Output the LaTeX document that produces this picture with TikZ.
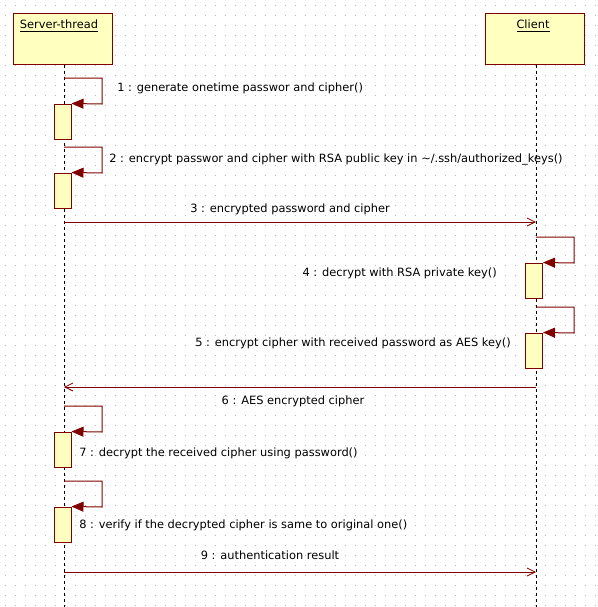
\documentclass[tikz,border=0pt]{standalone}
\usepackage{fontspec}
\setmainfont{DejaVu Sans}
\usetikzlibrary{arrows.meta}
\definecolor{umlred}{HTML}{800000}
\definecolor{umlfill}{HTML}{FFFFC0}
\definecolor{griddot}{HTML}{B8B8B8}
\begin{document}
\begin{tikzpicture}[x=0.75pt,y=-0.75pt,
  every node/.style={font=\fontsize{8.55pt}{10pt}\selectfont, inner sep=0pt},
  headbox/.style={draw=umlred, fill=umlfill, line width=0.75pt, minimum width=74.25pt, minimum height=38.25pt},
  actbox/.style={draw=umlred, fill=umlfill, line width=0.75pt, minimum width=12.75pt, minimum height=26.25pt},
  lifeline/.style={black, line width=0.75pt, dash pattern=on 2.6pt off 1.9pt},
  selfmsg/.style={umlred, line width=0.75pt, -{Triangle[length=9pt,width=7.5pt]}},
  msg/.style={umlred, line width=0.75pt, -{Straight Barb[length=6pt,width=6pt,line width=0.6pt]}},
  lbl/.style={text=black}
]
\useasboundingbox (0,0) rectangle (598,607);
% dotted grid
\foreach \yy in {5,15,...,605}
  \draw[griddot, line width=0.75pt, dash pattern=on 0.75pt off 6.75pt] (4.5,\yy) -- (598,\yy);

% heads
\node[headbox] (server) at (62.5,38.5) {};
\node[headbox] (client) at (534.5,38.5) {};
\node[lbl] (serverlbl) at (59,26) {\underline{Server-thread}};
\node[lbl] (clientlbl) at (533,26) {\underline{Client}};

% lifelines
\coordinate (sbot) at (64,607);
\coordinate (cbot) at (536,607);
\draw[lifeline] (server.south -| sbot) -- (sbot);
\draw[lifeline] (client.south -| cbot) -- (cbot);

% activation boxes
\node[actbox] (a1) at (62.5,121.5) {};
\node[actbox] (a2) at (62.5,190.5) {};
\node[actbox] (a4) at (534,280.5) {};
\node[actbox] (a5) at (534,350.5) {};
\node[actbox] (a7) at (62.5,449.5) {};
\node[actbox] (a8) at (62.5,524.5) {};

% message 1
\coordinate (m1a) at (64,78);
\coordinate (m1b) at (102,78);
\coordinate (m1c) at (102,104);
\draw[selfmsg] (m1a) -- (m1b) -- (m1c) -- (a1.north east);
\node[lbl, anchor=west] (l1) at (117,88) {1 : generate onetime passwor and cipher()};

% message 2
\coordinate (m2a) at (64,147);
\coordinate (m2b) at (102,147);
\coordinate (m2c) at (102,173);
\draw[selfmsg] (m2a) -- (m2b) -- (m2c) -- (a2.north east);
\node[lbl, anchor=west] (l2) at (109,160) {2 : encrypt passwor and cipher with RSA public key in \textasciitilde/.ssh/authorized\_keys()};

% message 3
\coordinate (m3a) at (64,222);
\coordinate (m3b) at (536,222);
\draw[msg] (m3a) -- (m3b);
\node[lbl] (l3) at (290,209) {3 : encrypted password and cipher};

% message 4
\coordinate (m4a) at (536,237);
\coordinate (m4b) at (574,237);
\coordinate (m4c) at (574,263);
\draw[selfmsg] (m4a) -- (m4b) -- (m4c) -- (a4.north east);
\node[lbl, anchor=east] (l4) at (497,273) {4 : decrypt with RSA private key()};

% message 5
\coordinate (m5a) at (536,307);
\coordinate (m5b) at (574,307);
\coordinate (m5c) at (574,333);
\draw[selfmsg] (m5a) -- (m5b) -- (m5c) -- (a5.north east);
\node[lbl, anchor=east] (l5) at (511,343) {5 : encrypt cipher with received password as AES key()};

% message 6
\coordinate (m6a) at (536,387);
\coordinate (m6b) at (64,387);
\draw[msg] (m6a) -- (m6b);
\node[lbl] (l6) at (293,401) {6 : AES encrypted cipher};

% message 7
\coordinate (m7a) at (64,406);
\coordinate (m7b) at (102,406);
\coordinate (m7c) at (102,432);
\draw[selfmsg] (m7a) -- (m7b) -- (m7c) -- (a7.north east);
\node[lbl, anchor=west] (l7) at (79,453) {7 : decrypt the received cipher using password()};

% message 8
\coordinate (m8a) at (64,481);
\coordinate (m8b) at (102,481);
\coordinate (m8c) at (102,507);
\draw[selfmsg] (m8a) -- (m8b) -- (m8c) -- (a8.north east);
\node[lbl, anchor=west] (l8) at (79,525) {8 : verify if the decrypted cipher is same to original one()};

% message 9
\coordinate (m9a) at (64,572);
\coordinate (m9b) at (536,572);
\draw[msg] (m9a) -- (m9b);
\node[lbl] (l9) at (270,555) {9 : authentication result};
\end{tikzpicture}
\end{document}
